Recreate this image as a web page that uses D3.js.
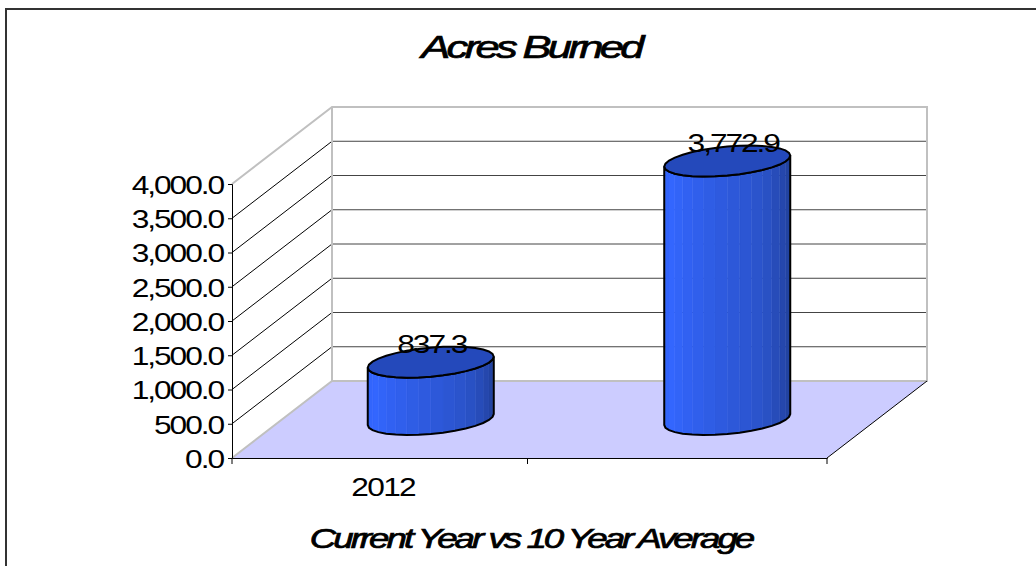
<!DOCTYPE html>
<html>
<head>
<meta charset="utf-8">
<script src="https://cdn.jsdelivr.net/npm/d3@7"></script>
<style>
html, body { margin: 0; padding: 0; background: #fff; }
svg { display: block; }
text { font-family: "Liberation Sans", Arial, sans-serif; fill: #000; }
</style>
</head>
<body>
<svg id="chart" width="1036" height="566"></svg>
<script>
const categories = ['2012', '']
const values = [837.3, 3772.9]
const valueLabels = ['837.3', '3,772.9']
const yTicks = [0, 500, 1000, 1500, 2000, 2500, 3000, 3500, 4000]
const titleText = 'Acres Burned'
const xTitleText = 'Current Year vs 10 Year Average'

const svg = d3.select('#chart')

// front plane scales, the back wall is the same thing shifted by depth
const y = d3.scaleLinear().domain([0, 4000]).range([458, 184])
const x = d3.scaleBand().domain(categories).range([232, 827])
const depthX = 100
const depthY = -77

// cylinders sit halfway into the depth
const barDepth = 0.5
const barWidth = 126
const ellipseRy = 14.5
const ellipseSkew = 5.5
const steps = d3.range(0, 32)

// the reference text is stretched sideways
const labelStretch = 1.22

// frame has only top and left edges in the picture
svg.append('path')
    .attr('d', 'M6,566V9H1036')
    .attr('fill', 'none').attr('stroke', '#333').attr('stroke-width', 2)

// floor
const x0 = x.range()[0], x1 = x.range()[1]
svg.append('path')
    .attr('d', d3.line()([[x0, y(0)], [x1, y(0)], [x1 + depthX, y(0) + depthY], [x0 + depthX, y(0) + depthY]]))
    .attr('fill', '#ccccff')

// gridlines on the side and back walls
const grid = svg.append('g')
grid.selectAll('line.side').data(yTicks.slice(1, -1)).join('line')
    .attr('class', 'side')
    .attr('x1', x0).attr('y1', d => y(d))
    .attr('x2', x0 + depthX).attr('y2', d => y(d) + depthY)
    .attr('stroke', '#000').attr('stroke-width', 1)
grid.selectAll('line.back').data(yTicks.slice(1, -1)).join('line')
    .attr('class', 'back')
    .attr('x1', x0 + depthX).attr('y1', d => y(d) + depthY)
    .attr('x2', x1 + depthX).attr('y2', d => y(d) + depthY)
    .attr('stroke', '#444').attr('stroke-width', 1)

// wall outline
svg.append('path')
    .attr('d', d3.line()([
        [x0, y(0)], [x0 + depthX, y(0) + depthY],
        [x1 + depthX, y(0) + depthY], [x1 + depthX, y(4000) + depthY],
        [x0 + depthX, y(4000) + depthY], [x0, y(4000)]
    ]))
    .attr('fill', 'none').attr('stroke', '#c0c0c0').attr('stroke-width', 2)
svg.append('line')
    .attr('x1', x0 + depthX).attr('y1', y(0) + depthY)
    .attr('x2', x0 + depthX).attr('y2', y(4000) + depthY)
    .attr('stroke', '#c0c0c0').attr('stroke-width', 2)
svg.append('line')
    .attr('x1', x1).attr('y1', y(0))
    .attr('x2', x1 + depthX).attr('y2', y(0) + depthY)
    .attr('stroke', '#000').attr('stroke-width', 1)

// axes
const yAxis = d3.axisLeft(y).tickValues(yTicks).tickSize(4).tickFormat(d3.format(',.1f'))
svg.append('g')
    .attr('transform', 'translate(232,0)')
    .call(yAxis)
    .call(g => g.selectAll('text')
        .attr('x', -9 / labelStretch)
        .attr('y', 1)
        .attr('transform', 'scale(' + labelStretch + ',1)')
        .style('font-size', '26px').style('letter-spacing', '-1.7px'))

const xAxis = d3.axisBottom(x).tickSize(0).tickFormat(d => d)
const xAxisG = svg.append('g')
    .attr('transform', 'translate(0,458)')
    .call(xAxis)
xAxisG.selectAll('text')
    .attr('y', 20)
    .attr('dx', 2)
    .attr('transform', 'scale(' + labelStretch + ',1)')
    .style('font-size', '26px').style('letter-spacing', '-1.4px')
xAxisG.selectAll('line.sep').data([x0, x0 + x.step() - 2, x1]).join('line')
    .attr('class', 'sep')
    .attr('x1', d => d).attr('x2', d => d)
    .attr('y1', 0).attr('y2', 6)
    .attr('stroke', '#000')

// cylinders
const sideColor = d3.scaleLinear()
    .domain([0, 0.15, 0.7, 1])
    .range(['#2f62f6', '#3366ff', '#2a52c8', '#1f3c8f'])
const sideLine = d3.line().curve(d3.curveLinear)

function ring(cx, cy) {
    return steps.map(i => {
        const t = (i / steps.length) * 2 * Math.PI
        return [
            cx + (barWidth / 2) * Math.cos(t),
            cy + ellipseRy * Math.sin(t) + ellipseSkew * Math.cos(t) * -1
        ]
    })
}

const half = steps.length / 2
const bars = svg.append('g').selectAll('g')
    .data(values)
    .join('g')

bars.each(function (d, i) {
    const g = d3.select(this)
    const cx = x(categories[i]) + x.bandwidth() / 2 + depthX * barDepth + (i === 0 ? 0 : -1)
    const baseY = y(0) + depthY * barDepth
    const topY = y(d) + depthY * barDepth
    const baseRing = ring(cx, baseY)
    const topRing = ring(cx, topY)

    // front half of the ring going right to left, each facet its own strip
    d3.range(0, half).forEach(k => {
        const a = baseRing[k], b = baseRing[k + 1]
        const c = topRing[k + 1], e = topRing[k]
        const col = sideColor(1 - (k + 0.5) / half)
        g.append('path')
            .attr('d', sideLine([a, b, c, e]) + 'Z')
            .attr('fill', col).attr('stroke', col).attr('stroke-width', 0.5)
    })
    const outline = baseRing.slice(0, half + 1).concat(topRing.slice(0, half + 1).reverse())
    g.append('path')
        .attr('d', sideLine(outline) + 'Z')
        .attr('fill', 'none').attr('stroke', '#000').attr('stroke-width', 2)
    g.append('path')
        .attr('d', sideLine(topRing) + 'Z')
        .attr('fill', '#2449bb').attr('stroke', '#000').attr('stroke-width', 2)
    g.append('text')
        .attr('text-anchor', 'middle')
        .attr('transform', 'translate(' + (cx + (i === 0 ? 1 : 6)) + ',' + (topY - 9.5) + ') scale(' + labelStretch + ',1)')
        .style('font-size', '26px').style('letter-spacing', '-1.7px')
        .text(valueLabels[i])
})

// titles
svg.append('text')
    .attr('text-anchor', 'middle')
    .attr('transform', 'translate(531,58) scale(1.36,1)')
    .style('font-size', '32px').style('font-style', 'italic')
    .style('letter-spacing', '-2.7px')
    .style('stroke', '#000').style('stroke-width', 0.7)
    .text(titleText)
svg.append('text')
    .attr('text-anchor', 'middle')
    .attr('transform', 'translate(531,548) scale(1.36,1)')
    .style('font-size', '27px').style('font-style', 'italic')
    .style('letter-spacing', '-2.2px')
    .style('stroke', '#000').style('stroke-width', 0.7)
    .text(xTitleText)
</script>
</body>
</html>
